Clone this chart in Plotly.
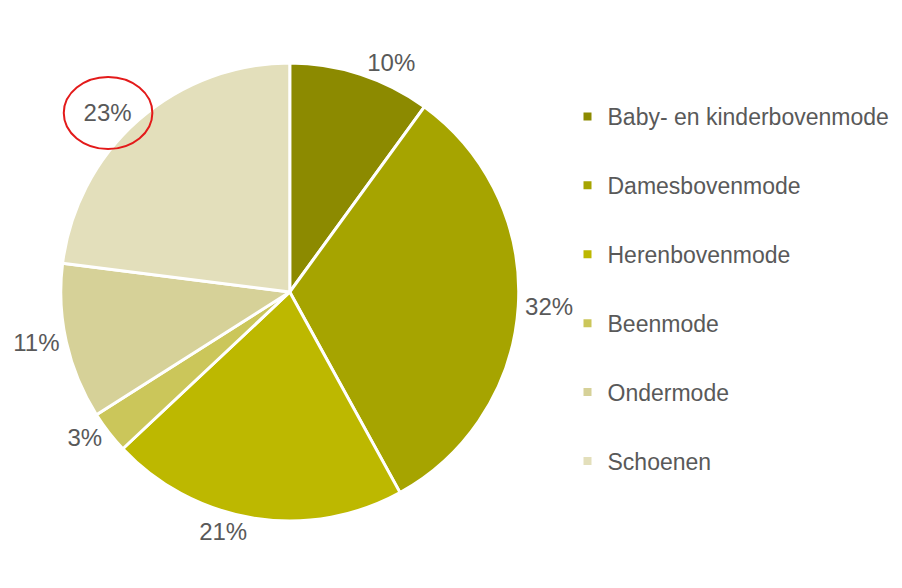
import plotly.graph_objects as go

categories = ["Baby- en kinderbovenmode", "Damesbovenmode", "Herenbovenmode",
              "Beenmode", "Ondermode", "Schoenen"]
shares = [10, 32, 21, 3, 11, 23]
colors = ["#8C8A00", "#A6A400", "#BDB800", "#CBC65A", "#D6D198", "#E3DFBB"]

OFF = 8                      # default page margin of the html body
W, H = 902 - OFF, 588 - OFF
cx, cy, R = 287 - OFF, 292 - OFF, 230

fig = go.Figure()
fig.add_trace(go.Pie(
    labels=categories, values=shares, sort=False, direction="clockwise", rotation=0,
    marker=dict(colors=colors, line=dict(color="white", width=3)),
    texttemplate="%{value}%", textposition="outside",
    outsidetextfont=dict(family="Liberation Sans, Arial", size=24, color="#595959"),
    showlegend=False, hoverinfo="label+percent",
    domain=dict(x=[(cx - R) / W, (cx + R) / W], y=[(H - cy - R) / H, (H - cy + R) / H]),
))

for i, (name, col) in enumerate(zip(categories, colors)):
    fig.add_trace(go.Scatter(
        x=[None], y=[None], mode="markers", name=name, legendgroup=f"g{i}",
        marker=dict(symbol="square", size=8, color=col), showlegend=True,
    ))

# red highlight ring around the "23%" label
rx0, rx1, ry0, ry1 = 60 - OFF, 149 - OFF, 77 - OFF, 149 - OFF
fig.add_shape(type="circle", xref="paper", yref="paper",
              x0=rx0 / W, x1=rx1 / W, y0=1 - ry1 / H, y1=1 - ry0 / H,
              line=dict(color="#E31A1A", width=2))

fig.update_layout(
    width=W, height=H, margin=dict(l=0, r=0, t=0, b=0),
    paper_bgcolor="white", plot_bgcolor="white",
    xaxis=dict(visible=False), yaxis=dict(visible=False),
    legend=dict(x=558 / W, xanchor="left", y=1 - 87 / H, yanchor="top",
                font=dict(family="Liberation Sans, Arial", size=23, color="#595959"),
                tracegroupgap=36, bgcolor="rgba(0,0,0,0)"),
)

fig.write_html("out.html")
